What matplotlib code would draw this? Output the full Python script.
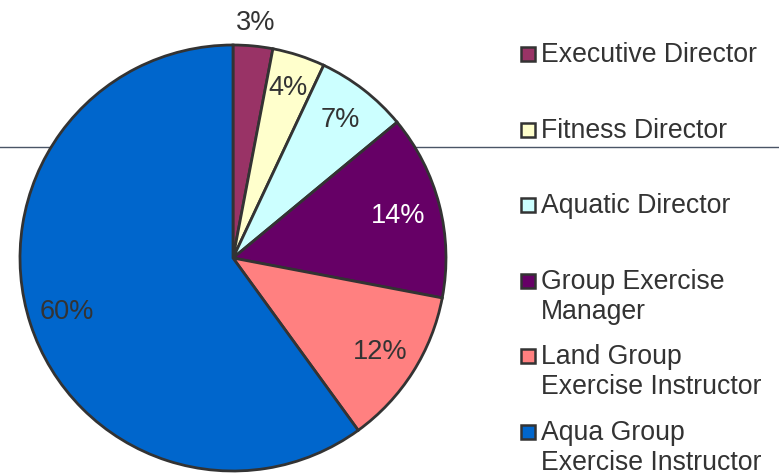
import numpy as np
import matplotlib
matplotlib.use('Agg')
import matplotlib.pyplot as plt
from matplotlib.patches import Rectangle

plt.rcParams['font.family'] = ['Liberation Sans', 'DejaVu Sans']

# Data
roles = ['Executive Director', 'Fitness Director', 'Aquatic Director',
         'Group Exercise\nManager', 'Land Group\nExercise Instructor',
         'Aqua Group\nExercise Instructor']
shares = [3, 4, 7, 14, 12, 60]
colors = ['#993366', '#FFFFCC', '#CCFFFF', '#660066', '#FF8080', '#0066CC']

W, H = 779, 475
fig = plt.figure(figsize=(W / 100, H / 100), dpi=100)

# pie axes: centre (233, 258) px, radius 213 px
cx, cy, r = 233, 258, 213
ax = fig.add_axes([(cx - r) / W, (H - cy - r) / H, 2 * r / W, 2 * r / H])
ax.patch.set_alpha(0)

wedges, _ = ax.pie(shares, colors=colors, startangle=90, counterclock=False,
                   wedgeprops=dict(edgecolor='#333333', linewidth=2.0))
ax.set_xlim(-1, 1)
ax.set_ylim(-1, 1)
ax.set_aspect('equal')

# stray horizontal rule behind the pie
ax.plot([0, 1], [1 - 147 / H] * 2, transform=fig.transFigure, clip_on=False,
        color='#4a5566', lw=1.0, zorder=0)

# percentage labels
label_r = [1.11, 0.84, 0.82, 0.80, 0.82, 0.82]
label_c = ['#333333', '#333333', '#333333', 'white', '#333333', '#333333']
for w, v, rr, c in zip(wedges, shares, label_r, label_c):
    mid = np.deg2rad((w.theta1 + w.theta2) / 2)
    ax.text(rr * np.cos(mid), rr * np.sin(mid), f'{v}%', ha='center', va='center',
            fontsize=19.5, color=c, clip_on=False)

# legend drawn by hand
for i, (lab, col) in enumerate(zip(roles, colors)):
    base = 62 + i * 75.6
    fig.add_artist(Rectangle((521 / W, 1 - (base - 1) / H), 14 / W, 14 / H,
                             transform=fig.transFigure, facecolor=col,
                             edgecolor='#333333', linewidth=1.8))
    for j, line in enumerate(lab.split('\n')):
        fig.text(541 / W, 1 - (base + 30 * j) / H, line, ha='left', va='baseline',
                 fontsize=19.2, color='#333333')

fig.savefig('out.png', dpi=100)
